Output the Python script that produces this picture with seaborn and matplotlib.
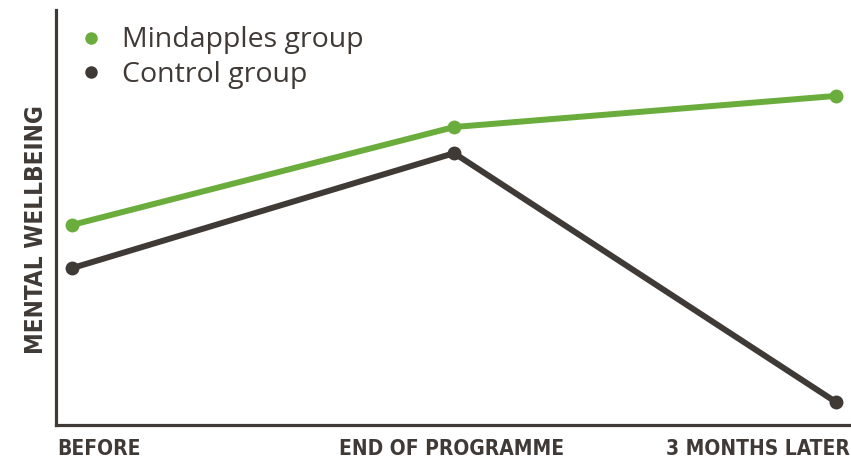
import matplotlib
matplotlib.use("Agg")
import matplotlib.pyplot as plt
import seaborn as sns
import pandas as pd
from matplotlib.lines import Line2D
import matplotlib.transforms as mtransforms

stages = ["BEFORE", "END OF PROGRAMME", "3 MONTHS LATER"]
mindapples = [48.2, 71.8, 79.3]
control = [37.8, 65.5, 5.5]
series_names = ["Mindapples group", "Control group"]
colors = ["#6aad3d", "#403a37"]
text_color = "#403a37"

sns.set_theme(style="white")
plt.rcParams['font.family'] = ['Open Sans', 'DejaVu Sans']

df = pd.DataFrame({
    "stage": list(range(3)) * 2,
    "value": mindapples + control,
    "group": [series_names[0]] * 3 + [series_names[1]] * 3,
})

fig = plt.figure(figsize=(8.51, 4.66), dpi=100)
ax = fig.add_axes([56 / 851, 41 / 466, 795 / 851, 415 / 466])

sns.lineplot(data=df, x="stage", y="value", hue="group", palette=colors,
             marker="o", markersize=10, markeredgewidth=0, linewidth=4.3,
             ax=ax, legend=False)

ax.set_xlim(-0.042, 2.039)
ax.set_ylim(0, 100)
ax.set_yticks([])
ax.set_xticks([0, 1, 2])
ax.set_xticklabels(stages, family='DejaVu Sans', stretch='condensed', weight='bold',
                   fontsize=15, color=text_color)
aligns = ["left", "center", "right"]
for lbl, ha in zip(ax.get_xticklabels(), aligns):
    lbl.set_ha(ha)
ax.tick_params(axis='x', length=0, pad=10)
offL = mtransforms.ScaledTranslation(-15 / 100, 0, fig.dpi_scale_trans)
offC = mtransforms.ScaledTranslation(-3 / 100, 0, fig.dpi_scale_trans)
offR = mtransforms.ScaledTranslation(14 / 100, 0, fig.dpi_scale_trans)
labels = ax.get_xticklabels()
labels[0].set_transform(labels[0].get_transform() + offL)
labels[1].set_transform(labels[1].get_transform() + offC)
labels[2].set_transform(labels[2].get_transform() + offR)

ax.set_xlabel("")
ax.set_ylabel("MENTAL WELLBEING", family='DejaVu Sans', stretch='condensed', weight='bold',
              fontsize=17.5, color=text_color)
ax.yaxis.set_label_coords(-0.01, 0.47)

for s in ["top", "right"]:
    ax.spines[s].set_visible(False)
for s in ["left", "bottom"]:
    ax.spines[s].set_color(text_color)
    ax.spines[s].set_linewidth(2.3)

handles = [Line2D([], [], linestyle='none', marker='o', markersize=9,
                  markerfacecolor=c, markeredgewidth=0) for c in colors]
leg = ax.legend(handles, series_names, loc='upper left',
                bbox_to_anchor=(-0.015, 1.022), frameon=False,
                prop={'family': ['Open Sans', 'DejaVu Sans'], 'size': 20.5},
                labelcolor=text_color, handletextpad=0.35, labelspacing=0.22,
                handlelength=1.5)

fig.savefig("out.png", dpi=100, facecolor="white")
